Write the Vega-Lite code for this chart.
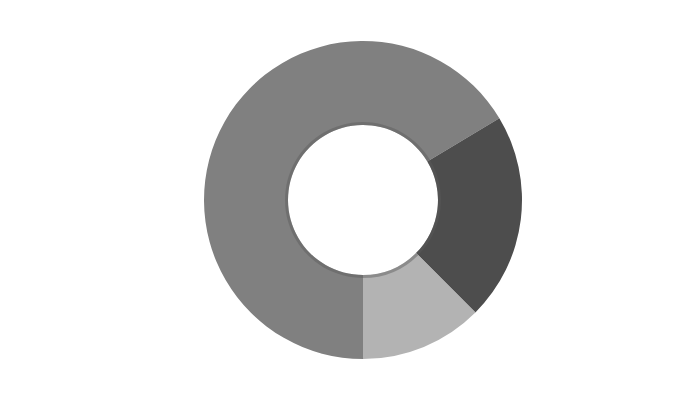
{
  "$schema": "https://vega.github.io/schema/vega-lite/v6.json",
  "width": 674,
  "height": 400,
  "padding": {"left": 26, "right": 0, "top": 0, "bottom": 0},
  "background": "white",
  "view": {"stroke": null},
  "data": {
    "values": [
      {"segment": "A", "share": 66.4, "rank": 1},
      {"segment": "B", "share": 21.1, "rank": 2},
      {"segment": "C", "share": 12.5, "rank": 3}
    ]
  },
  "encoding": {
    "theta": {
      "field": "share",
      "type": "quantitative",
      "stack": true,
      "scale": {"range": [3.14159265, 9.42477796]}
    },
    "order": {"field": "rank", "type": "quantitative"}
  },
  "layer": [
    {
      "mark": {"type": "arc", "innerRadius": 75, "outerRadius": 159},
      "encoding": {
        "color": {
          "field": "segment",
          "type": "nominal",
          "scale": {"domain": ["A", "B", "C"], "range": ["#808080", "#4d4d4d", "#b3b3b3"]},
          "legend": null
        }
      }
    },
    {
      "mark": {"type": "arc", "innerRadius": 75, "outerRadius": 78, "fill": "#5a5a5a", "opacity": 0.45}
    }
  ]
}
